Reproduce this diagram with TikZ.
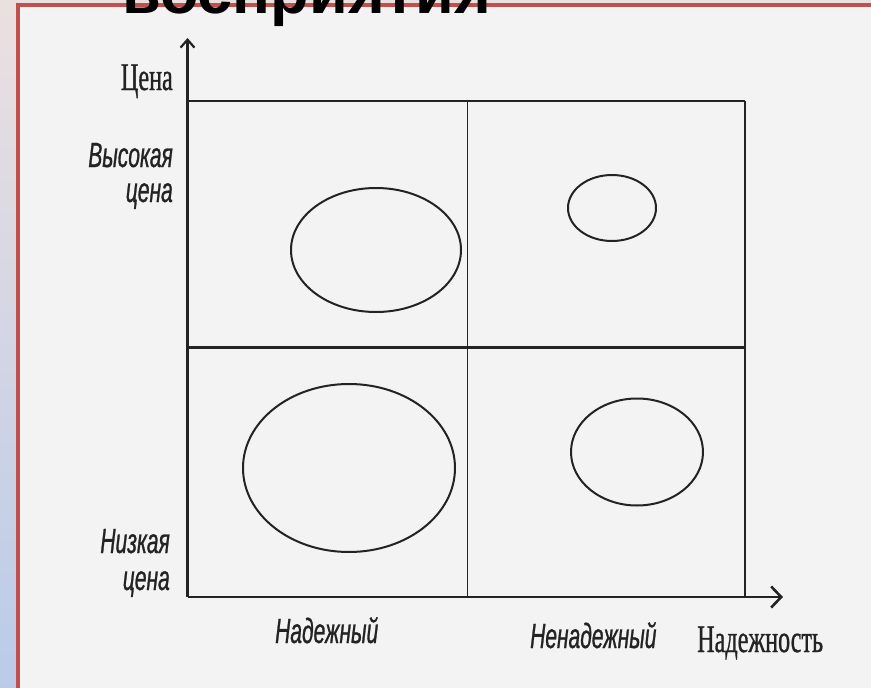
\documentclass[tikz,border=0pt]{standalone}
\usepackage{fontspec}
\setmainfont{Liberation Serif}
\newfontfamily\condserif[FakeStretch=0.62,FakeBold=0.8]{Liberation Serif}
\newfontfamily\condsans[FakeStretch=0.6,FakeBold=0.8]{Liberation Sans}
\newfontfamily\titlesans{Liberation Sans}
\usetikzlibrary{shapes.geometric,arrows.meta}
\definecolor{frameRed}{HTML}{C0504D}
\definecolor{ink}{HTML}{232323}
\definecolor{paper}{HTML}{F3F3F3}
\definecolor{stripTop}{HTML}{EBE0E0}
\definecolor{stripBot}{HTML}{BACBE8}
\tikzset{
  axisline/.style={draw=ink, line width=2.4pt},
  hline/.style={draw=ink, line width=2.4pt},
  vline/.style={draw=ink, line width=1.4pt},
  blob/.style={ellipse, draw=ink, line width=2pt, inner sep=0pt},
  uplabel/.style={text=ink, inner sep=0pt, font={\condserif\fontsize{39}{44}\selectfont}},
  itlabel/.style={text=ink, inner sep=0pt, font={\condsans\itshape\fontsize{35}{40}\selectfont}},
  titletext/.style={text=black, inner sep=0pt, font={\titlesans\bfseries\fontsize{63}{68}\selectfont}}
}
\begin{document}
\begin{tikzpicture}[x=1pt,y=-1pt]
\useasboundingbox (0,0) rectangle (871,688);
% background strip and paper
\shade[top color=stripTop, bottom color=stripBot] (0,0) rectangle (871,688);
\fill[paper] (17.5,5) rectangle (871,688);
\draw[frameRed, line width=4pt] (17.5,700) -- (17.5,5) -- (880,5);
% title
\node[titletext, anchor=base west] (title) at (122,13) {восприятия};
% coordinates
\coordinate (O) at (187.5,597);
\coordinate (ytip) at (187.5,38);
\coordinate (xtip) at (783,597);
\coordinate (tl) at (187.5,101);
\coordinate (tm) at (467.5,101);
\coordinate (tr) at (745,101);
\coordinate (ml) at (187.5,347.5);
\coordinate (mm) at (467.5,347.5);
\coordinate (mr) at (745,347.5);
\coordinate (bm) at (467.5,597);
\coordinate (br) at (745,597);
% grid
\draw[hline] (tl) -- (tr);
\draw[hline] (ml) -- (mr);
\draw[vline] (tm) -- (bm);
\draw[vline] (tr) -- (br);
% axes
\draw[axisline, -{Straight Barb[length=8pt,width=14pt,line width=2.2pt]}] (O) -- (ytip);
\draw[axisline, -{Straight Barb[length=10pt,width=21pt,line width=2.6pt]}] (O) -- (xtip);
% ellipses
\node[blob, minimum width=170pt, minimum height=124pt] (e1) at (376,250) {};
\node[blob, minimum width=88pt, minimum height=66pt] (e2) at (612,208) {};
\node[blob, minimum width=212pt, minimum height=168pt] (e3) at (349,468) {};
\node[blob, minimum width=132pt, minimum height=107pt] (e4) at (637,452) {};
% labels
\node[uplabel, anchor=base east] (price) at (173,90) {Цена};
\node[itlabel, anchor=base east] (hi1) at (173,167) {Высокая};
\node[itlabel, anchor=base east] (hi2) at (173,202) {цена};
\node[itlabel, anchor=base east] (lo1) at (170,553) {Низкая};
\node[itlabel, anchor=base east] (lo2) at (170,590) {цена};
\node[itlabel, anchor=base west] (rel) at (275,643) {Надежный};
\node[itlabel, anchor=base west] (unrel) at (530,648) {Ненадежный};
\node[uplabel, anchor=base west] (relax) at (697,652) {Надежность};
\end{tikzpicture}
\end{document}
